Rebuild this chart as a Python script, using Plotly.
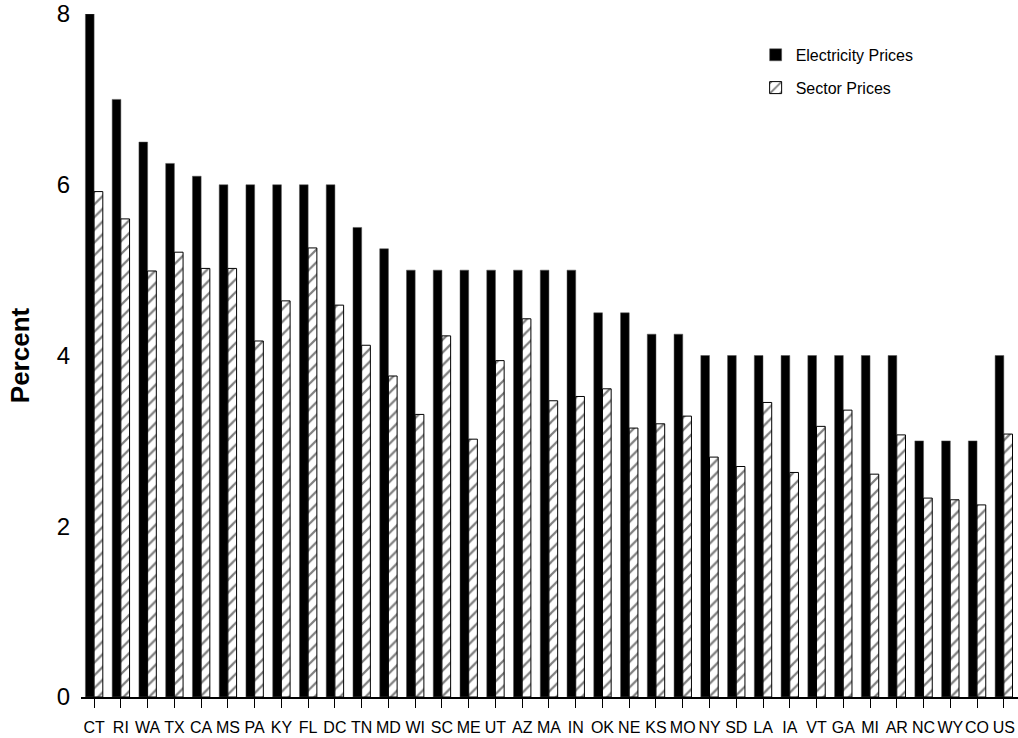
import plotly.graph_objects as go

states = ["CT", "RI", "WA", "TX", "CA", "MS", "PA", "KY", "FL", "DC", "TN", "MD",
          "WI", "SC", "ME", "UT", "AZ", "MA", "IN", "OK", "NE", "KS", "MO", "NY",
          "SD", "LA", "IA", "VT", "GA", "MI", "AR", "NC", "WY", "CO", "US"]

electricity_prices = [8.0, 7.0, 6.5, 6.25, 6.1, 6.0, 6.0, 6.0, 6.0, 6.0, 5.5, 5.25,
                      5.0, 5.0, 5.0, 5.0, 5.0, 5.0, 5.0, 4.5, 4.5, 4.25, 4.25, 4.0,
                      4.0, 4.0, 4.0, 4.0, 4.0, 4.0, 4.0, 3.0, 3.0, 3.0, 4.0]

sector_prices = [5.92, 5.60, 4.99, 5.21, 5.02, 5.02, 4.17, 4.64, 5.26, 4.59, 4.12, 3.76,
                 3.31, 4.23, 3.02, 3.94, 4.43, 3.47, 3.52, 3.61, 3.15, 3.20, 3.29, 2.81,
                 2.70, 3.45, 2.63, 3.17, 3.36, 2.61, 3.07, 2.33, 2.31, 2.25, 3.08]

y_ticks = [0, 2, 4, 6, 8]

fig = go.Figure()
fig.add_trace(go.Bar(
    x=states, y=electricity_prices, name="Electricity Prices",
    marker=dict(color="black", line=dict(color="#555555", width=0.5)),
    legendgroup="e",
))
fig.add_trace(go.Bar(
    x=states, y=sector_prices, name="Sector Prices",
    marker=dict(color="white", line=dict(color="black", width=1),
                pattern=dict(shape="/", size=9, solidity=0.25,
                             fgcolor="black", bgcolor="white")),
    legendgroup="s",
))

fig.update_layout(
    width=1018, height=738,
    margin=dict(l=81, r=0, t=14, b=41, autoexpand=False),
    paper_bgcolor="white", plot_bgcolor="white",
    barmode="group", bargap=0.35, bargroupgap=0,
    font=dict(family="Liberation Sans, Arial, sans-serif", color="black"),
    showlegend=True,
    legend=dict(x=0.72, y=0.965, xanchor="left", yanchor="top",
                font=dict(size=16, color="black"), bgcolor="rgba(0,0,0,0)",
                traceorder="grouped", tracegroupgap=9),
    xaxis=dict(
        range=[-0.49, 34.53], showline=True, linecolor="black", linewidth=1.5,
        ticks="outside", ticklen=9, tickcolor="black", tickwidth=1,
        tickfont=dict(size=16), tickangle=0, automargin=False,
        ticklabelstandoff=6, showgrid=False, zeroline=False,
    ),
    yaxis=dict(
        range=[0, 8], tickvals=y_ticks, showline=False, ticks="",
        tickfont=dict(size=24), showgrid=False, zeroline=False, automargin=False,
        ticklabelstandoff=10,
        title=dict(text="<b>Percent</b>", font=dict(size=26), standoff=19),
    ),
)

fig.write_html("out.html",
               config={"displayModeBar": False},
               post_script="document.body.style.margin='0';document.body.style.overflow='hidden';")
